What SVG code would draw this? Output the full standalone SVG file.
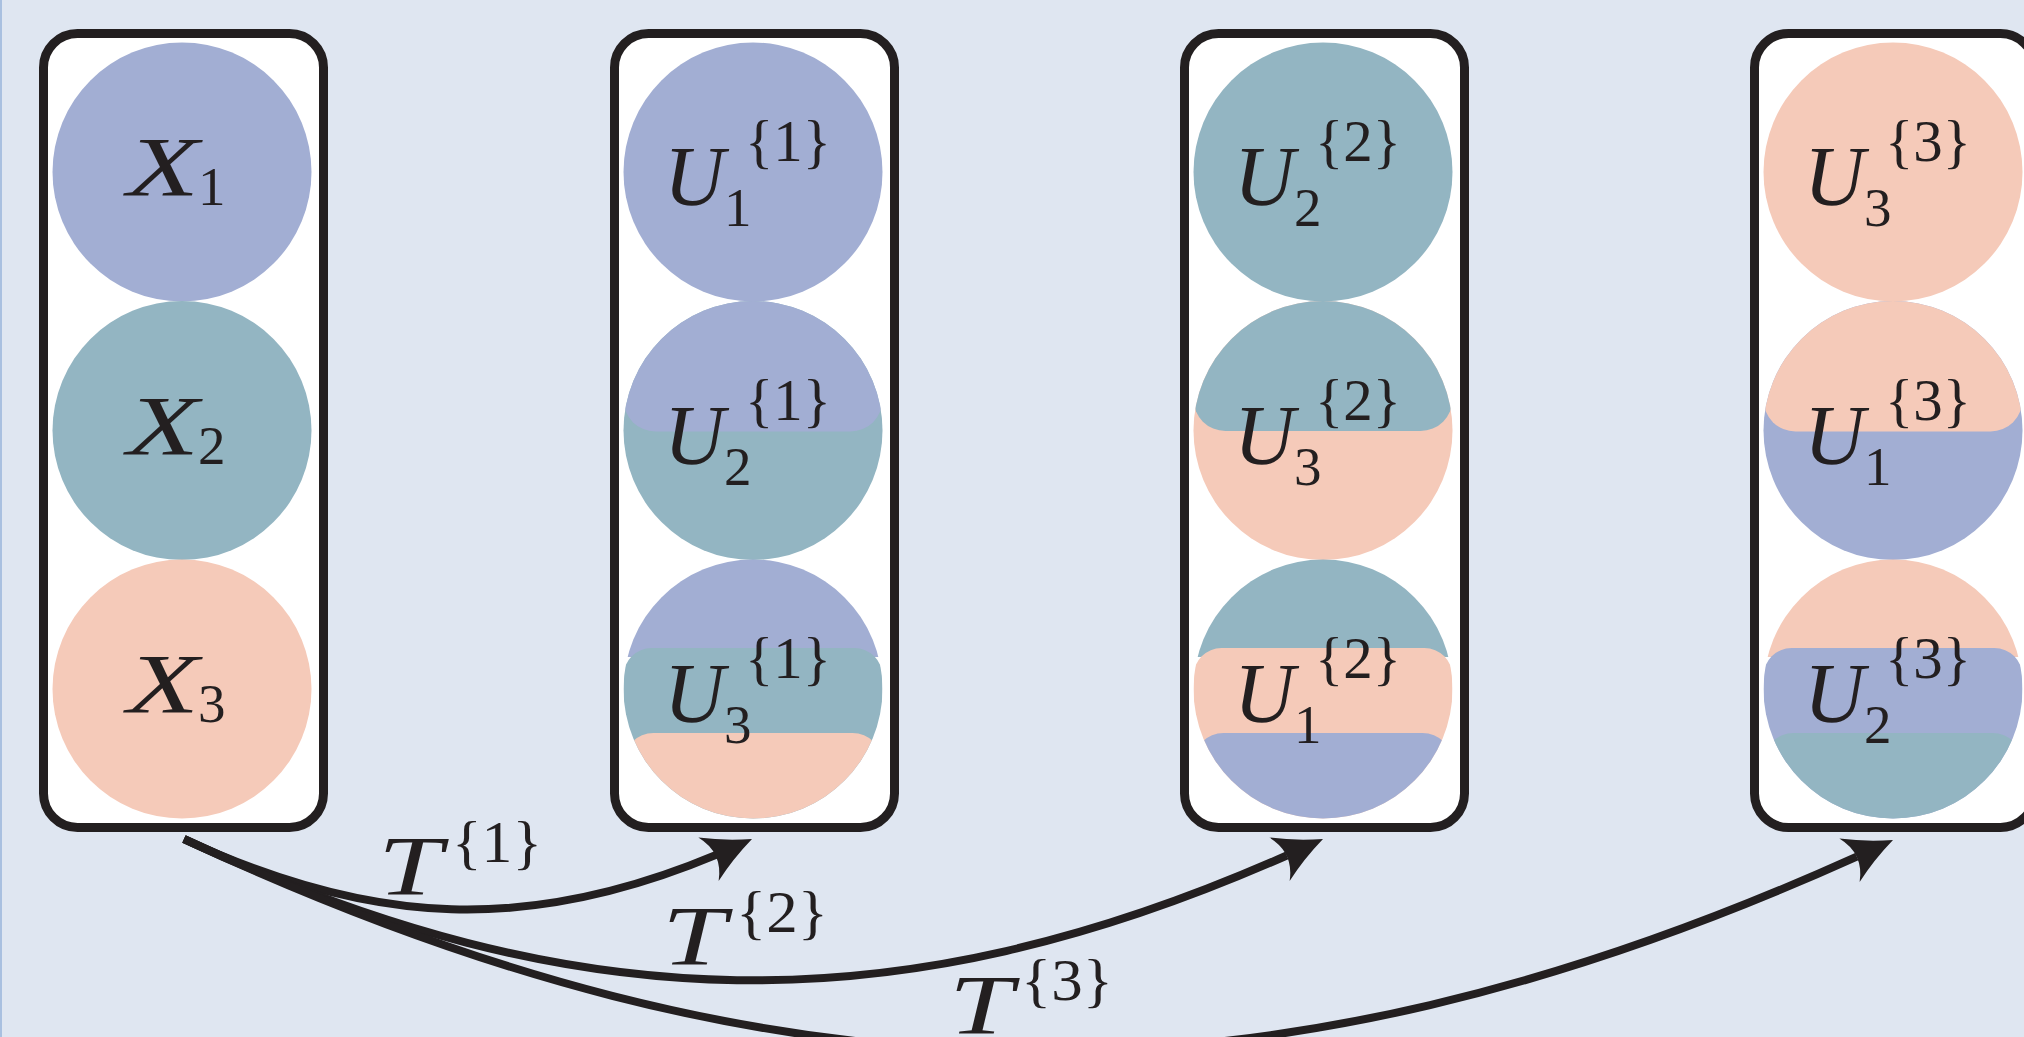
<svg xmlns="http://www.w3.org/2000/svg" xmlns:xlink="http://www.w3.org/1999/xlink" width="2024" height="1037" viewBox="0 0 2024 1037">
<style>
.box{fill:#ffffff;stroke:#231f20;stroke-width:9}
.p{fill:#a2aed3}
.t{fill:#93b5c2}
.o{fill:#f5cab9}
.m{font-family:"Liberation Serif","Times New Roman",serif;font-style:italic;font-size:84px;fill:#231f20}
.s{font-family:"Liberation Serif","Times New Roman",serif;font-size:55px;fill:#231f20}
.sp{font-family:"Liberation Serif","Times New Roman",serif;font-size:59px;fill:#231f20}
.c{fill:none;stroke:#231f20;stroke-width:8}
.ah{fill:#231f20}
</style>
<defs>
<path id="arrow" d="M0,0 Q-26,-10 -48,-24 Q-32,0 -48,24 Q-26,10 0,0 Z"/>
<clipPath id="k22"><circle cx="753" cy="430.5" r="129.5"/></clipPath>
<clipPath id="k23"><circle cx="753" cy="689" r="129.5"/></clipPath>
<clipPath id="k32"><circle cx="1323" cy="430.5" r="129.5"/></clipPath>
<clipPath id="k33"><circle cx="1323" cy="689" r="129.5"/></clipPath>
<clipPath id="k42"><circle cx="1893" cy="430.5" r="129.5"/></clipPath>
<clipPath id="k43"><circle cx="1893" cy="689" r="129.5"/></clipPath>
</defs>
<rect x="0" y="0" width="2024" height="1037" fill="#dfe6f1"/>
<rect x="0" y="0" width="2" height="1037" fill="#a9c0e0"/>

<g id="column-X">
<rect class="box" x="43.5" y="33.5" width="280" height="794" rx="34"/>
<g id="X1"><circle class="p" cx="182" cy="172" r="129.5"/><text class="m" x="127" y="196" textLength="72" lengthAdjust="spacingAndGlyphs">X</text><text class="s" x="198" y="205">1</text></g>
<g id="X2"><circle class="t" cx="182" cy="430.5" r="129.5"/><text class="m" x="127" y="454.5" textLength="72" lengthAdjust="spacingAndGlyphs">X</text><text class="s" x="198" y="463.5">2</text></g>
<g id="X3"><circle class="o" cx="182" cy="689" r="129.5"/><text class="m" x="127" y="713" textLength="72" lengthAdjust="spacingAndGlyphs">X</text><text class="s" x="198" y="722">3</text></g>
</g>

<g id="column-U1">
<rect class="box" x="614.5" y="33.5" width="280" height="794" rx="34"/>
<g id="U1-1"><circle class="p" cx="753" cy="172" r="129.5"/><text class="m" x="664" y="205">U</text><text class="sp" x="745" y="161" textLength="86" lengthAdjust="spacingAndGlyphs">{1}</text><text class="s" x="724" y="226">1</text></g>
<g id="U2-1"><circle class="t" cx="753" cy="430.5" r="129.5"/><rect class="p" clip-path="url(#k22)" x="623.5" y="260" width="259" height="171.5" rx="32"/><text class="m" x="664" y="463.5">U</text><text class="sp" x="745" y="419.5" textLength="86" lengthAdjust="spacingAndGlyphs">{1}</text><text class="s" x="724" y="484.5">2</text></g>
<g id="U3-1"><g clip-path="url(#k23)"><rect class="p" x="618" y="550" width="270" height="107"/><rect class="t" x="623.5" y="648" width="259" height="200" rx="28"/><rect class="o" x="623.5" y="733" width="259" height="160" rx="30"/></g><text class="m" x="664" y="722">U</text><text class="sp" x="745" y="678" textLength="86" lengthAdjust="spacingAndGlyphs">{1}</text><text class="s" x="724" y="743">3</text></g>
</g>

<g id="column-U2">
<rect class="box" x="1184.5" y="33.5" width="280" height="794" rx="34"/>
<g id="U2-2"><circle class="t" cx="1323" cy="172" r="129.5"/><text class="m" x="1234" y="205">U</text><text class="sp" x="1315" y="161" textLength="86" lengthAdjust="spacingAndGlyphs">{2}</text><text class="s" x="1294" y="226">2</text></g>
<g id="U3-2"><circle class="o" cx="1323" cy="430.5" r="129.5"/><rect class="t" clip-path="url(#k32)" x="1193.5" y="260" width="259" height="171" rx="32"/><text class="m" x="1234" y="463.5">U</text><text class="sp" x="1315" y="419.5" textLength="86" lengthAdjust="spacingAndGlyphs">{2}</text><text class="s" x="1294" y="484.5">3</text></g>
<g id="U1-2"><g clip-path="url(#k33)"><rect class="t" x="1188" y="550" width="270" height="107"/><rect class="o" x="1193.5" y="648" width="259" height="200" rx="28"/><rect class="p" x="1193.5" y="733" width="259" height="160" rx="30"/></g><text class="m" x="1234" y="722">U</text><text class="sp" x="1315" y="678" textLength="86" lengthAdjust="spacingAndGlyphs">{2}</text><text class="s" x="1294" y="743">1</text></g>
</g>

<g id="column-U3">
<rect class="box" x="1754.5" y="33.5" width="280" height="794" rx="34"/>
<g id="U3-3"><circle class="o" cx="1893" cy="172" r="129.5"/><text class="m" x="1804" y="205">U</text><text class="sp" x="1885" y="161" textLength="86" lengthAdjust="spacingAndGlyphs">{3}</text><text class="s" x="1864" y="226">3</text></g>
<g id="U1-3"><circle class="p" cx="1893" cy="430.5" r="129.5"/><rect class="o" clip-path="url(#k42)" x="1763.5" y="260" width="259" height="171.5" rx="32"/><text class="m" x="1804" y="463.5">U</text><text class="sp" x="1885" y="419.5" textLength="86" lengthAdjust="spacingAndGlyphs">{3}</text><text class="s" x="1864" y="484.5">1</text></g>
<g id="U2-3"><g clip-path="url(#k43)"><rect class="o" x="1758" y="550" width="270" height="107"/><rect class="p" x="1763.5" y="648" width="259" height="200" rx="28"/><rect class="t" x="1763.5" y="733" width="259" height="160" rx="30"/></g><text class="m" x="1804" y="722">U</text><text class="sp" x="1885" y="678" textLength="86" lengthAdjust="spacingAndGlyphs">{3}</text><text class="s" x="1864" y="743">2</text></g>
</g>

<g id="connectors">
<path class="c" d="M184,839 C373.5,927.4 530.5,932.7 716.1,854.9"/>
<use xlink:href="#arrow" class="ah" transform="translate(752,839) rotate(-25)"/>
<path class="c" d="M184,839 C576.0,1021.7 899.0,1027.2 1286.8,855.5"/>
<use xlink:href="#arrow" class="ah" transform="translate(1323,839) rotate(-25)"/>
<path class="c" d="M184,839 C778.3,1116.1 1266.7,1122.7 1856.8,856.6"/>
<use xlink:href="#arrow" class="ah" transform="translate(1893,840) rotate(-25)"/>
<g id="labels">
<text class="m" x="378" y="895" textLength="64" lengthAdjust="spacingAndGlyphs">T</text><text class="sp" x="452" y="862" textLength="90" lengthAdjust="spacingAndGlyphs">{1}</text>
<text class="m" x="662" y="965" textLength="64" lengthAdjust="spacingAndGlyphs">T</text><text class="sp" x="736" y="932" textLength="92" lengthAdjust="spacingAndGlyphs">{2}</text>
<text class="m" x="949" y="1034" textLength="64" lengthAdjust="spacingAndGlyphs">T</text><text class="sp" x="1021" y="1000" textLength="92" lengthAdjust="spacingAndGlyphs">{3}</text>
</g>
</g>
</svg>
